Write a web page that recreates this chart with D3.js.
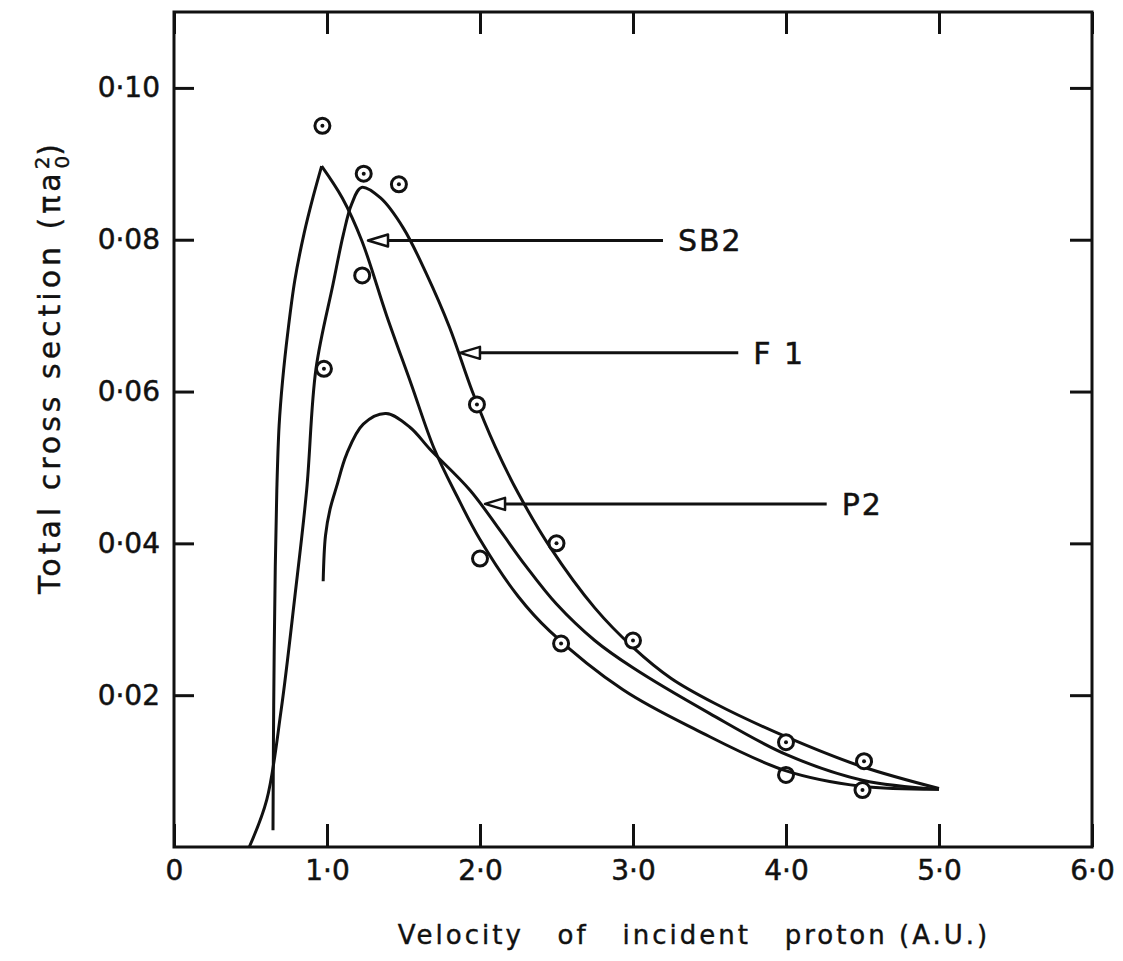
<!DOCTYPE html>
<html>
<head>
<meta charset="utf-8">
<script src="https://cdn.jsdelivr.net/npm/d3@7"></script>
<style>
  body { margin: 0; background: #fff; }
  text { font-family: "DejaVu Sans", sans-serif; fill: #111; }
</style>
</head>
<body>
<div id="chart"></div>
<script>
var width = 1123,
    height = 961;
var margin = {top: 12, right: 31, bottom: 114, left: 174};

// theory curves, [velocity (A.U.), cross section (pi a0^2)]
var sb2Rise = [[0.647,0.0022],[0.650,0.014],[0.655,0.026],[0.662,0.037],[0.672,0.047],[0.687,0.0555],[0.71,0.0615],[0.745,0.068],[0.79,0.0747],[0.85,0.0808],[0.91,0.0857],[0.965,0.0897]];
var sb2Fall = [[0.965,0.0897],[1.10,0.0855],[1.227,0.0799],[1.39,0.0700],[1.55,0.0610],[1.70,0.0525],[1.85,0.0462],[2.0,0.0405],[2.25,0.0330],[2.458,0.0284],[2.935,0.0207],[3.416,0.0154],[3.991,0.0101],[4.495,0.0080],[5.0,0.0076]];
var f1 = [[0.492,0.0],[0.606,0.0062],[0.70,0.018],[0.79,0.033],[0.867,0.047],[0.928,0.063],[1.04,0.0742],[1.107,0.0807],[1.161,0.0847],[1.227,0.0869],[1.35,0.0855],[1.5,0.0815],[1.65,0.0755],[1.8,0.0685],[1.95,0.0600],[2.1,0.0527],[2.25,0.0466],[2.458,0.0395],[2.75,0.0315],[3.0,0.0263],[3.25,0.0222],[3.536,0.0189],[3.991,0.0146],[4.495,0.0106],[5.0,0.0077]];
var p2 = [[0.975,0.035],[0.99,0.041],[1.02,0.0445],[1.063,0.0475],[1.129,0.0518],[1.237,0.0557],[1.386,0.0571],[1.542,0.0553],[1.673,0.0524],[1.935,0.047],[2.131,0.0417],[2.3,0.0370],[2.5,0.0320],[2.75,0.0272],[3.0,0.0236],[3.5,0.0176],[4.0,0.0122],[4.5,0.0088],[5.0,0.0076]];

// measured points
var dotV = [0.97, 1.24, 1.47, 0.98, 1.98, 2.50, 2.53, 3.00, 4.00, 4.51, 4.50];
var dotC = [0.0950, 0.0887, 0.0873, 0.0630, 0.0583, 0.0400, 0.0268, 0.0272, 0.0138, 0.0113, 0.0075];
var openV = [1.23, 2.00, 4.00];
var openC = [0.0753, 0.0380, 0.0095];

// curve labels with pointer arrows
var labelNames = ["SB2", "F 1", "P2"];
var arrowTipV = [1.268, 1.869, 2.033];
var arrowEndV = [3.196, 3.688, 4.266];
var arrowC = [0.0799, 0.0651, 0.0452];

var xTicks = [0, 1, 2, 3, 4, 5, 6];
var yTicks = [0.02, 0.04, 0.06, 0.08, 0.10];

var svg = d3.select("#chart")
    .append("svg")
    .attr("width", width)
    .attr("height", height);

var g = svg.append("g")
    .attr("transform", "translate(" + margin.left + "," + margin.top + ")");

var w = width - margin.left - margin.right,
    h = height - margin.top - margin.bottom;

var x = d3.scaleLinear().domain([0, 6]).range([0, w]);
var y = d3.scaleLinear().domain([0, 0.11]).range([h, 0]);

function fmtX(d) { return d === 0 ? "0" : d.toFixed(1).replace(".", "\u00b7"); }
function fmtY(d) { return d.toFixed(2).replace(".", "\u00b7"); }

// axes, ticks pointing inward
g.append("g")
    .attr("transform", "translate(0," + h + ")")
    .call(d3.axisBottom(x).tickValues(xTicks).tickSize(-23).tickPadding(13).tickFormat(fmtX));
g.append("g")
    .call(d3.axisTop(x).tickValues(xTicks).tickSize(-22).tickFormat(""));
g.append("g")
    .call(d3.axisLeft(y).tickValues(yTicks).tickSize(-20).tickPadding(14).tickFormat(fmtY));
g.append("g")
    .attr("transform", "translate(" + w + ",0)")
    .call(d3.axisRight(y).tickValues(yTicks).tickSize(-22).tickFormat(""));

g.selectAll(".domain").remove();
g.selectAll(".tick line").attr("stroke", "#111").attr("stroke-width", 3);
g.selectAll(".tick text")
    .style("font-size", "28px")
    .attr("fill", "#111")
    .attr("stroke", "#111")
    .attr("stroke-width", 0.5);

g.append("rect")
    .attr("width", w)
    .attr("height", h)
    .attr("fill", "none")
    .attr("stroke", "#111")
    .attr("stroke-width", 3);

// curves
var line = d3.line()
    .x(function(d) { return x(d[0]); })
    .y(function(d) { return y(d[1]); })
    .curve(d3.curveCatmullRom.alpha(0.5));

g.append("g").selectAll("path")
    .data([sb2Rise, sb2Fall, f1, p2])
    .enter().append("path")
    .attr("d", line)
    .attr("fill", "none")
    .attr("stroke", "#111")
    .attr("stroke-width", 3)
    .attr("stroke-linejoin", "round");

// pointer arrows and names
var ann = g.append("g").selectAll("g")
    .data(labelNames)
    .enter().append("g");

ann.append("line")
    .attr("x1", function(d, i) { return x(arrowTipV[i]) + 16; })
    .attr("x2", function(d, i) { return x(arrowEndV[i]); })
    .attr("y1", function(d, i) { return y(arrowC[i]); })
    .attr("y2", function(d, i) { return y(arrowC[i]); })
    .attr("stroke", "#111")
    .attr("stroke-width", 3);

ann.append("path")
    .attr("d", function(d, i) {
        var tx = x(arrowTipV[i]), ty = y(arrowC[i]);
        return "M" + tx + "," + ty + " L" + (tx + 20) + "," + (ty - 6) + " L" + (tx + 20) + "," + (ty + 6) + " Z";
    })
    .attr("fill", "#fff")
    .attr("stroke", "#111")
    .attr("stroke-width", 2.5)
    .attr("stroke-linejoin", "round");

ann.append("text")
    .attr("x", function(d, i) { return x(arrowEndV[i]) + 15; })
    .attr("y", function(d, i) { return y(arrowC[i]); })
    .attr("dy", "0.36em")
    .style("font-size", "30px")
    .style("letter-spacing", "2px")
    .style("white-space", "pre")
    .attr("stroke", "#111")
    .attr("stroke-width", 0.5)
    .text(function(d) { return d; });

// data points
var pts = g.append("g");
pts.selectAll("circle.dot")
    .data(dotV)
    .enter().append("circle")
    .attr("class", "dot")
    .attr("cx", function(d) { return x(d); })
    .attr("cy", function(d, i) { return y(dotC[i]); })
    .attr("r", 7.5)
    .attr("fill", "#fff")
    .attr("stroke", "#111")
    .attr("stroke-width", 3);
pts.selectAll("circle.centre")
    .data(dotV)
    .enter().append("circle")
    .attr("class", "centre")
    .attr("cx", function(d) { return x(d); })
    .attr("cy", function(d, i) { return y(dotC[i]); })
    .attr("r", 2)
    .attr("fill", "#111");
pts.selectAll("circle.open")
    .data(openV)
    .enter().append("circle")
    .attr("class", "open")
    .attr("cx", function(d) { return x(d); })
    .attr("cy", function(d, i) { return y(openC[i]); })
    .attr("r", 7.5)
    .attr("fill", "none")
    .attr("stroke", "#111")
    .attr("stroke-width", 3);

// axis titles
svg.append("text")
    .attr("x", 694)
    .attr("y", 944)
    .attr("text-anchor", "middle")
    .style("font-size", "26px")
    .style("letter-spacing", "3px")
    .style("white-space", "pre")
    .attr("stroke", "#111")
    .attr("stroke-width", 0.4)
    .text("Velocity   of   incident   proton (A.U.)");

var yt = svg.append("text")
    .attr("transform", "translate(60,367) rotate(-90)")
    .attr("text-anchor", "middle")
    .style("font-size", "30px")
    .style("letter-spacing", "4px")
    .attr("stroke", "#111")
    .attr("stroke-width", 0.4);
yt.append("tspan").text("Total cross section (\u03c0a");
yt.append("tspan").attr("dy", -11).style("font-size", "20px").style("letter-spacing", "0px").text("2");
yt.append("tspan").attr("dx", -12).attr("dy", 20).style("font-size", "20px").style("letter-spacing", "0px").text("0");
yt.append("tspan").attr("dy", -9).text(")");
</script>
</body>
</html>
